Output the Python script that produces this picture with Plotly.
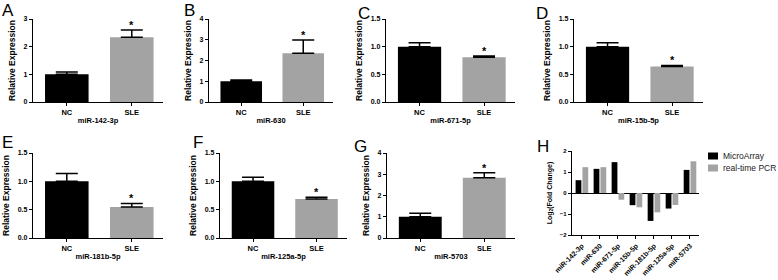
import plotly.graph_objects as go

# ---------------- data ----------------
groups = ["NC", "SLE"]
panel_letters = ["A", "B", "C", "D", "E", "F", "G", "H"]
mirnas = ["miR-142-3p", "miR-630", "miR-671-5p", "miR-15b-5p",
          "miR-181b-5p", "miR-125a-5p", "miR-5703"]
nc_mean = [1.0, 1.0, 1.0, 1.0, 1.0, 1.0, 1.0]
nc_err = [0.08, 0.06, 0.07, 0.07, 0.14, 0.07, 0.17]
sle_mean = [2.34, 2.35, 0.81, 0.64, 0.545, 0.69, 2.83]
sle_err = [0.26, 0.64, 0.02, 0.02, 0.065, 0.03, 0.24]
y_max = [3, 4, 1.5, 1.5, 1.5, 1.5, 4]
y_dtick = [1, 1, 0.5, 0.5, 0.5, 0.5, 1]
y_ticklabels = [["0", "1", "2", "3"], ["0", "1", "2", "3", "4"],
                ["0.0", "0.5", "1.0", "1.5"], ["0.0", "0.5", "1.0", "1.5"],
                ["0.0", "0.5", "1.0", "1.5"], ["0.0", "0.5", "1.0", "1.5"],
                ["0", "1", "2", "3", "4"]]
microarray = [0.61, 1.15, 1.47, -0.58, -1.33, -0.74, 1.10]
realtime_pcr = [1.23, 1.23, -0.32, -0.68, -0.92, -0.57, 1.51]
h_ticks = [-2, -1, 0, 1, 2]
series_names = ["MicroArray", "real-time PCR"]

# ---------------- layout geometry (pixels) ----------------
W, H = 778, 280
boxes = [(33, 163, 19, 102), (209, 333, 19, 102), (386, 515, 19, 102),
         (574, 703, 19, 102), (33, 163, 153, 238), (220, 347, 153, 238),
         (387, 515, 153, 238)]
box_h = (572, 699, 151, 235)
letter_pos = [(0, -1), (182, -1), (356, 2), (534, 2),
              (0, 131), (191, 131), (352, 135), (535, 135)]

FONT = "Liberation Sans, Arial, sans-serif"
BLACK = "#000000"
GRAY = "#a3a3a3"


def xd(a, b):
    return [a / W, b / W]


def yd(top, bottom):
    return [1 - bottom / H, 1 - top / H]


fig = go.Figure()
layout = {}
annotations = []

for i in range(7):
    n = i + 1
    xa = "x" if n == 1 else f"x{n}"
    ya = "y" if n == 1 else f"y{n}"
    fig.add_trace(go.Bar(
        x=groups, y=[nc_mean[i], sle_mean[i]], xaxis=xa, yaxis=ya,
        width=0.67, marker=dict(color=[BLACK, GRAY], line=dict(width=0)),
        error_y=dict(type="data", symmetric=False,
                     array=[nc_err[i], sle_err[i]], arrayminus=[0, 0],
                     color=BLACK, thickness=1.5, width=11),
        showlegend=False, hoverinfo="skip"))
    x0, x1, t, b = boxes[i]
    layout[f"xaxis{n}"] = dict(
        domain=xd(x0, x1), anchor=ya, range=[-0.52, 1.48], automargin=False,
        showline=True, linecolor=BLACK, linewidth=1.3,
        ticks="outside", ticklen=3, tickwidth=1, tickcolor=BLACK,
        tickfont=dict(family=FONT, size=7.5, color=BLACK, weight="bold"),
        title=dict(text=mirnas[i], standoff=1,
                   font=dict(family=FONT, size=7.5, color=BLACK, weight="bold")),
        showgrid=False, zeroline=False, fixedrange=True)
    tv = [k * y_dtick[i] for k in range(len(y_ticklabels[i]))]
    layout[f"yaxis{n}"] = dict(
        domain=yd(t, b), anchor=xa, range=[0, y_max[i]], automargin=False,
        tickvals=tv, ticktext=y_ticklabels[i],
        showline=True, linecolor=BLACK, linewidth=1.3,
        ticks="outside", ticklen=3, tickwidth=1, tickcolor=BLACK,
        tickfont=dict(family=FONT, size=7, color=BLACK, weight="bold"),
        title=dict(text="Relative Expression", standoff=6,
                   font=dict(family=FONT, size=8.5, color=BLACK, weight="bold")),
        showgrid=False, zeroline=False, fixedrange=True)
    annotations.append(dict(
        x="SLE", y=sle_mean[i] + sle_err[i], xref=xa, yref=ya,
        text="*", showarrow=False, yanchor="bottom", yshift=-3,
        font=dict(family=FONT, size=11, color=BLACK, weight="bold")))

# Panel H
colors_h = [BLACK, GRAY]
offsets_h = [-0.35, 0.03]
for s, vals in enumerate([microarray, realtime_pcr]):
    fig.add_trace(go.Bar(
        x=mirnas, y=vals, xaxis="x8", yaxis="y8", name=series_names[s],
        width=0.32, offset=offsets_h[s],
        marker=dict(color=colors_h[s], line=dict(width=0)),
        showlegend=False, hoverinfo="skip"))
x0, x1, t, b = box_h
layout["xaxis8"] = dict(
    domain=xd(x0, x1), anchor="y8", range=[-0.55, 6.5], automargin=False,
    showline=True, linecolor=BLACK, linewidth=1.3,
    ticks="outside", ticklen=3, tickwidth=1, tickcolor=BLACK, tickangle=-45,
    tickfont=dict(family=FONT, size=7, color=BLACK, weight="bold"),
    showgrid=False, zeroline=False, fixedrange=True)
layout["yaxis8"] = dict(
    domain=yd(t, b), anchor="x8", range=[-2, 2], tickvals=h_ticks, automargin=False,
    showline=True, linecolor=BLACK, linewidth=1.3,
    ticks="outside", ticklen=3, tickwidth=1, tickcolor=BLACK,
    tickfont=dict(family=FONT, size=6, color=BLACK, weight="bold"),
    title=dict(text="Log<sub>2</sub>(Fold Change)", standoff=6,
               font=dict(family=FONT, size=7, color=BLACK, weight="bold")),
    showgrid=False, zeroline=True, zerolinecolor=BLACK, zerolinewidth=1.3,
    fixedrange=True)

# legend for H (drawn as key boxes + labels)
shapes = []
leg_y = [156, 168]
for s in range(2):
    shapes.append(dict(type="rect", xref="paper", yref="paper",
                       x0=708 / W, x1=718 / W,
                       y0=1 - (leg_y[s] + 3.5) / H, y1=1 - (leg_y[s] - 3.5) / H,
                       fillcolor=colors_h[s], line=dict(width=0)))
    annotations.append(dict(x=721 / W, y=1 - leg_y[s] / H, xref="paper", yref="paper",
                            text=series_names[s], showarrow=False,
                            xanchor="left", yanchor="middle",
                            font=dict(family=FONT, size=8.5, color="#222222")))

for k, (lx, ly) in enumerate(letter_pos):
    annotations.append(dict(x=lx / W, y=1 - ly / H, xref="paper", yref="paper",
                            text=panel_letters[k], showarrow=False,
                            xanchor="left", yanchor="top",
                            font=dict(family=FONT, size=17, color=BLACK)))

fig.update_layout(
    width=W, height=H, margin=dict(l=0, r=0, t=0, b=0),
    paper_bgcolor="white", plot_bgcolor="white",
    showlegend=False, annotations=annotations, shapes=shapes,
    **layout)

fig.write_html(
    "out.html",
    config={"displayModeBar": False},
    post_script="document.body.style.margin='0';document.body.style.padding='0';")
